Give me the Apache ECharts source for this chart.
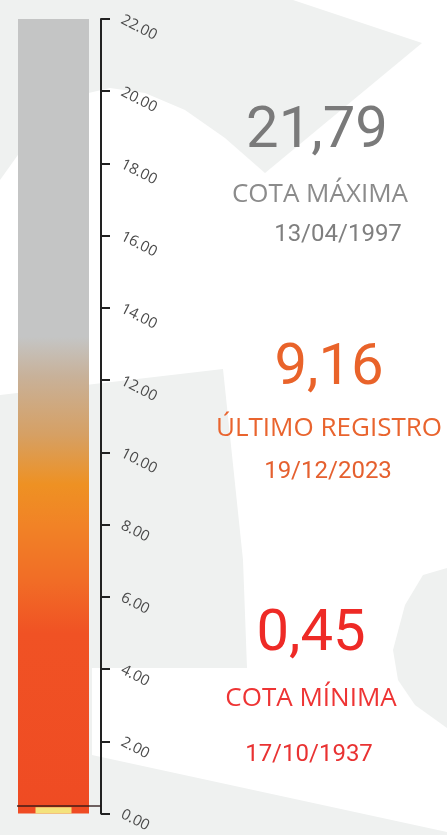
<!DOCTYPE html>
<html>
<head>
<meta charset="utf-8">
<script src="https://cdn.jsdelivr.net/npm/echarts@6/dist/echarts.min.js"></script>
<style>
  html, body { margin: 0; padding: 0; background: #ffffff; }
  #chart { width: 447px; height: 835px; }
</style>
</head>
<body>
<div id="chart"></div>
<script>
// escala da régua
var axisMin = 0, axisMax = 22, axisStep = 2;
// barra (régua cheia) e marcador amarelo do fundo
var gaugeCategories = ['nivel'];
var gaugeValues = [22];
var markerValues = [0.17];
// cota mínima registrada (linha escura)
var minLevel = 0.45;
// blocos de texto: máxima, último registro, mínima
var statValues = [21.79, 9.16, 0.45];
var statLabels = ['COTA MÁXIMA', 'ÚLTIMO REGISTRO', 'COTA MÍNIMA'];
var statDates = ['13/04/1997', '19/12/2023', '17/10/1937'];

var chart = echarts.init(document.getElementById('chart'));

function fmt(v) {
    return v.toFixed(2).replace('.', ',');
}

// posições e cores de cada bloco de texto
var blocks = [
    { x: 317, yNum: 132, xLab: 320, yLab: 195, xDate: 338, yDate: 235, cNum: '#7a7a7a', cLab: '#8b8b8b', cDate: '#7f7f7f' },
    { x: 329, yNum: 369, xLab: 329, yLab: 429, xDate: 328, yDate: 472, cNum: '#e9632a', cLab: '#e9642e', cDate: '#e5602f' },
    { x: 311, yNum: 635, xLab: 311, yLab: 699, xDate: 309, yDate: 755, cNum: '#ee2a26', cLab: '#ee3434', cDate: '#e93232' }
];

var graphics = [
    // marca d'água do fundo
    { type: 'polygon', silent: true, z: -10,
      shape: { points: [[0,0],[293,0],[422,43],[265,173],[225,138],[185,110],[145,93],[110,88],[80,95],[50,115],[25,145],[0,180]] },
      style: { fill: '#eff1f0' } },
    { type: 'polygon', silent: true, z: -10,
      shape: { points: [[0,395],[223,369],[243,560],[247,668],[92,668],[92,755],[447,832],[447,835],[0,835]] },
      style: { fill: '#eff1f0' } },
    { type: 'polygon', silent: true, z: -10,
      shape: { points: [[447,568],[423,575],[405,605],[393,650],[398,680],[415,705],[447,728]] },
      style: { fill: '#eff1f0' } }
];

blocks.forEach(function (b, i) {
    graphics.push({ type: 'text', x: b.x, y: b.yNum, z: 10,
        style: { text: fmt(statValues[i]), font: '58px Roboto', fill: b.cNum, align: 'center', verticalAlign: 'middle' } });
    graphics.push({ type: 'text', x: b.xLab, y: b.yLab, z: 10,
        style: { text: statLabels[i], font: '26px "Open Sans"', fill: b.cLab, align: 'center', verticalAlign: 'middle' } });
    graphics.push({ type: 'text', x: b.xDate, y: b.yDate, z: 10,
        style: { text: statDates[i], font: '24px Roboto', fill: b.cDate, align: 'center', verticalAlign: 'middle' } });
});

chart.setOption({
    animation: false,
    backgroundColor: '#ffffff',
    graphic: graphics,
    grid: [
        { left: 6, width: 95, top: 19, bottom: 13 },
        { left: 17, width: 84, top: 19, bottom: 13 }
    ],
    xAxis: [
        { type: 'category', gridIndex: 0, data: gaugeCategories, show: false },
        { type: 'category', gridIndex: 0, data: gaugeCategories, show: false },
        { type: 'value', gridIndex: 1, min: 0, max: 1, show: false }
    ],
    yAxis: [
        {
            type: 'value', gridIndex: 0, position: 'right',
            min: axisMin, max: axisMax, interval: axisStep,
            splitLine: { show: false },
            axisLine: { show: true, lineStyle: { color: '#222222', width: 2 } },
            axisTick: { show: true, length: 9, lineStyle: { color: '#222222', width: 2 } },
            axisLabel: {
                margin: 21, rotate: -27, color: '#4a4a4a',
                fontFamily: 'Open Sans', fontSize: 15,
                formatter: function (v) { return v.toFixed(2); }
            }
        },
        { type: 'value', gridIndex: 1, min: axisMin, max: axisMax, show: false }
    ],
    series: [
        {
            type: 'bar', xAxisIndex: 0, yAxisIndex: 0,
            data: gaugeValues, barWidth: 71,
            itemStyle: {
                color: new echarts.graphic.LinearGradient(0, 0, 0, 1, [
                    { offset: 0, color: '#c4c5c5' },
                    { offset: 0.40, color: '#c4c5c5' },
                    { offset: 0.45, color: '#c8b199' },
                    { offset: 0.523, color: '#d6a064' },
                    { offset: 0.586, color: '#ee9123' },
                    { offset: 0.636, color: '#f18326' },
                    { offset: 0.709, color: '#f16c26' },
                    { offset: 0.773, color: '#f05224' },
                    { offset: 1, color: '#ef4b23' }
                ])
            }
        },
        {
            type: 'bar', xAxisIndex: 1, yAxisIndex: 0,
            data: markerValues, barWidth: 36, z: 3,
            itemStyle: { color: '#f4e27c' }
        },
        {
            type: 'line', xAxisIndex: 2, yAxisIndex: 1, data: [], z: 5,
            markLine: {
                silent: true, symbol: 'none',
                label: { show: false },
                lineStyle: { color: 'rgba(40,20,20,0.65)', width: 2, type: 'solid' },
                data: [{ yAxis: minLevel }]
            }
        }
    ]
});
</script>
</body>
</html>
